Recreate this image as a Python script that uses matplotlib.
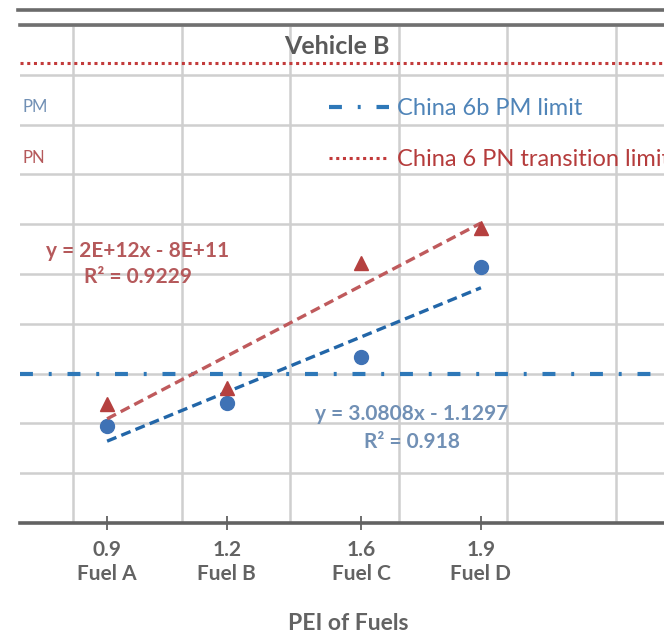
import numpy as np
import matplotlib
matplotlib.use("Agg")
import matplotlib.pyplot as plt
from matplotlib.lines import Line2D

plt.rcParams["font.family"] = ["Lato", "DejaVu Sans"]

# ── Data ────────────────────────────────────────────────────────────────────
fuels = ["Fuel A", "Fuel B", "Fuel C", "Fuel D"]
pei_labels = ["0.9", "1.2", "1.6", "1.9"]
pei = [0.90, 1.22, 1.58, 1.90]
pm = [1.95, 2.41, 3.33, 5.14]                  # mg/km
pn = [1.55e12, 1.76e12, 3.39e12, 3.85e12]      # #/km
pm_limit = 3.0
pn_limit = 6.0e12
pm_fit = (3.0808, -1.1297)
pm_eq = "y = 3.0808x - 1.1297\nR\u00b2 = 0.918"
pn_eq = "y = 2E+12x - 8E+11\nR\u00b2 = 0.9229"

# ── Colours ─────────────────────────────────────────────────────────────────
C_PM = "#3f72b5"
C_PM_TXT = "#7190b5"
C_PM_LIM = "#2e78b8"
C_PN = "#b5403f"
C_PN_TXT = "#b5595b"
C_GRID = "#cfcfcf"
C_AXIS = "#626262"
C_TEXT = "#636363"

W, H = 664, 643


def fx(px):
    return px / W


def fy(py):
    return 1 - py / H


fig = plt.figure(figsize=(W / 100, H / 100), dpi=100)
ax = fig.add_axes([fx(20), fy(523), fx(700) - fx(20), fy(25) - fy(523)])
ax.set_xlim(0.667, 2.486)
ax.set_ylim(0, 10)
ax2 = ax.twinx()
ax2.set_ylim(0, 6.5e12)

# grid
ax.set_yticks(np.arange(0, 11, 1))
ax.set_xticks(np.arange(0.809, 2.45, 0.2905), minor=True)
ax.grid(True, which="major", axis="y", color=C_GRID, lw=1.8)
ax.grid(True, which="minor", axis="x", color=C_GRID, lw=1.8)
ax.set_axisbelow(True)

# PM series
ax.plot(pei, pm, "o", color=C_PM, markersize=10, zorder=4)
xs = np.array([pei[0], pei[-1]])
ax.plot(xs, pm_fit[0] * xs + pm_fit[1], color="#2266a8", lw=2.4,
        linestyle=(0, (3, 1.6)), zorder=3)
ax.axhline(pm_limit, color=C_PM_LIM, lw=3, linestyle=(0, (3.1, 3.8, 0.7, 3.8)),
           zorder=3)

# PN series
ax2.plot(pei, pn, "^", color=C_PN, markersize=10, zorder=4)
k, b = np.polyfit(pei, pn, 1)
ax2.plot(xs, k * xs + b, color="#bf5a5c", lw=2.4,
         linestyle=(0, (3, 1.6)), zorder=3)
ax2.axhline(pn_limit, color="#c23b3b", lw=2.2, linestyle=(0, (1, 1.2)),
            zorder=3)

# axes styling
for a in (ax, ax2):
    for s in ("left", "right"):
        a.spines[s].set_visible(False)
    a.tick_params(axis="y", left=False, right=False,
                  labelleft=False, labelright=False)
ax.spines["bottom"].set_color(C_AXIS)
ax.spines["bottom"].set_linewidth(2.6)
ax.spines["top"].set_color("#707070")
ax.spines["top"].set_linewidth(2.6)
ax2.spines["top"].set_visible(False)
ax2.spines["bottom"].set_visible(False)

ax.set_xticks(pei)
ax.set_xticklabels([f"{p}\n{f}" for p, f in zip(pei_labels, fuels)],
                   fontsize=15, color=C_TEXT, linespacing=1.3,
                   fontweight="bold")
ax.tick_params(axis="x", which="major", direction="inout", length=10,
               width=1.3, color=C_AXIS, pad=7)
ax.tick_params(axis="x", which="minor", length=0)
ax.set_xlabel("PEI of Fuels", fontsize=16.5, color=C_TEXT, fontweight="bold")
ax.xaxis.set_label_coords(0.482, -0.18)

# extra rule above plot
fig.add_artist(Line2D([fx(18), 1], [fy(10), fy(10)], color="#6b6b6b", lw=2.6))

# title and labels
fig.text(fx(337), fy(46), "Vehicle B", fontsize=18, color="#5a5a5a",
         ha="center", va="center", fontweight="bold")
fig.text(fx(22), fy(107), "PM", fontsize=12, color=C_PM_TXT, va="center")
fig.text(fx(22), fy(158), "PN", fontsize=12, color=C_PN_TXT, va="center")

# trendline equations
fig.text(fx(138), fy(264), pn_eq, fontsize=15, color=C_PN_TXT,
         ha="center", va="center", linespacing=1.35, fontweight="bold")
fig.text(fx(412), fy(428), pm_eq, fontsize=15, color=C_PM_TXT,
         ha="center", va="center", linespacing=1.55, fontweight="bold")

# limit legend (text runs off the right edge, as in the source figure)
handles = [
    Line2D([], [], color=C_PM_LIM, lw=3, linestyle=(0, (3.1, 3.8, 0.7, 3.8))),
    Line2D([], [], color="#c23b3b", lw=2.2, linestyle=(0, (1, 1.2))),
]
leg = fig.legend(handles, ["China 6b PM limit", "China 6 PN transition limit"],
                 loc="upper left", bbox_to_anchor=(fx(329), fy(98)),
                 frameon=False, fontsize=17, handlelength=2.55,
                 handletextpad=0.34, labelspacing=1.27, borderpad=0,
                 borderaxespad=0)
for t, c in zip(leg.get_texts(), ["#4f84b8", "#b53c3c"]):
    t.set_color(c)

fig.savefig("out.png", dpi=100)
